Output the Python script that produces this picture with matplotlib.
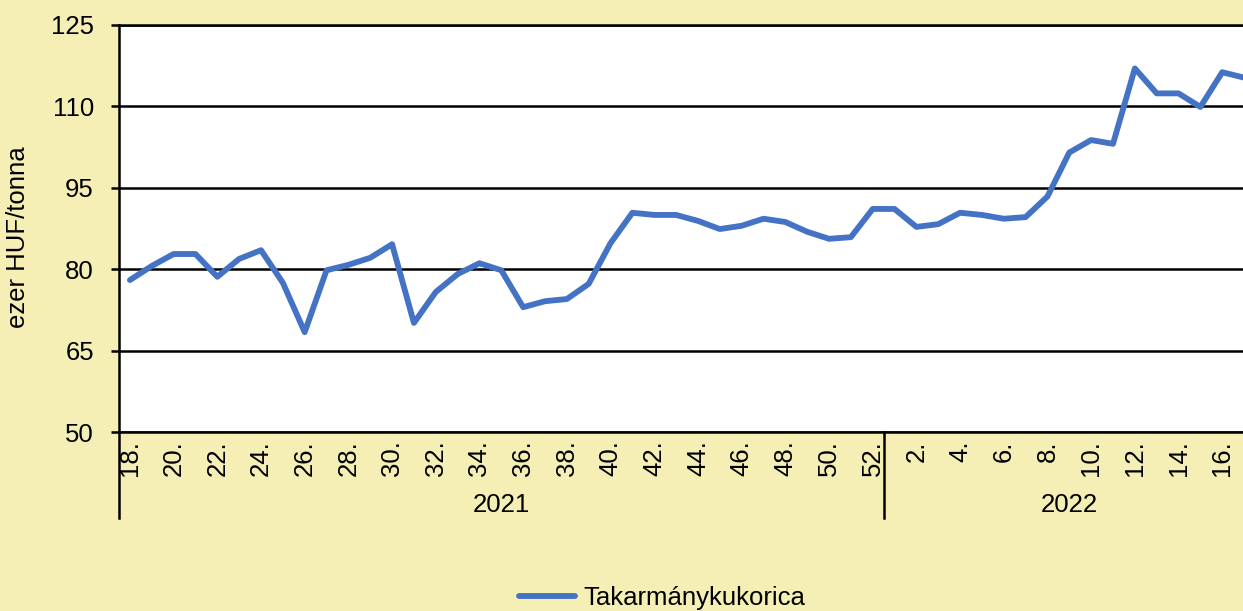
import matplotlib.pyplot as plt
import matplotlib.transforms as mtransforms

# weekly prices, 2021 week 18 .. 2022 week 17
weeks_2021 = list(range(18, 53))
weeks_2022 = list(range(1, 18))
years = ["2021", "2022"]
series_name = "Takarmánykukorica"
prices = [
    78.0, 80.6, 82.8, 82.8, 78.6, 81.9, 83.5, 77.5, 68.4, 79.8,
    80.8, 82.1, 84.6, 70.1, 75.8, 79.1, 81.1, 79.8, 73.0, 74.1,
    74.5, 77.3, 84.8, 90.4, 90.0, 90.0, 88.9, 87.4, 88.0, 89.3,
    88.7, 86.9, 85.6, 85.9, 91.1,
    91.1, 87.8, 88.3, 90.4, 90.0, 89.3, 89.6, 93.4, 101.5, 103.8,
    103.1, 117.0, 112.4, 112.4, 109.9, 116.3, 115.3,
]
y_ticks = [50, 65, 80, 95, 110, 125]

bg = "#F5EFB5"
line_color = "#4472C4"
fs = 18.5

plt.rcParams["font.family"] = ["Liberation Sans", "DejaVu Sans"]

W, H = 1243, 611
fig = plt.figure(figsize=(W / 100, H / 100), dpi=100, facecolor=bg)
ax = fig.add_axes([119 / W, 1 - 432 / H, (1255 - 119) / W, (432 - 25) / H])
ax.set_facecolor("white")

weeks = weeks_2021 + weeks_2022
x = list(range(len(weeks)))
ax.plot(x, prices, color=line_color, lw=4.2, solid_joinstyle="round",
        solid_capstyle="round", label=series_name, zorder=3)

ax.set_xlim(-0.5, len(weeks) - 0.5)
ax.set_ylim(50, 125)
ax.set_yticks(y_ticks)
ax.tick_params(axis="y", labelsize=fs, length=6, width=1.8, direction="out",
               pad=12, colors="black")

tick_pos = [i for i, w in enumerate(weeks) if w % 2 == 0]
ax.set_xticks(tick_pos)
ax.set_xticklabels([f"{weeks[i]}." for i in tick_pos], rotation=90,
                   fontsize=fs)
ax.tick_params(axis="x", length=0, pad=6)

ax.yaxis.grid(True, color="black", lw=1.8)
ax.set_axisbelow(True)
ax.spines["right"].set_visible(False)
for s in ["left", "bottom", "top"]:
    ax.spines[s].set_color("black")
    ax.spines[s].set_linewidth(1.8)

# year group separators and labels
trans = mtransforms.blended_transform_factory(ax.transData, ax.transAxes)
drop = (518 - 432) / (432 - 25)
n21 = len(weeks_2021)
for xs in [-0.5, n21 - 0.5]:
    ax.plot([xs, xs], [0, -drop], color="black", lw=1.8, transform=trans,
            clip_on=False)
ax.text((n21 - 1) / 2, -(505 - 432) / (432 - 25), years[0], transform=trans,
        ha="center", va="center", fontsize=fs)
ax.text(n21 + (len(weeks_2022) - 1) / 2, -(505 - 432) / (432 - 25), years[1],
        transform=trans, ha="center", va="center", fontsize=fs)

fig.text(18 / W, 1 - 237 / H, "ezer HUF/tonna", rotation=90, ha="center",
         va="center", fontsize=fs)

fig.legend(loc="center", bbox_to_anchor=(662 / W, 1 - 598 / H), frameon=False,
           fontsize=fs, handlelength=2.2, handletextpad=0.3)

fig.savefig("out.png", dpi=100, facecolor=bg)
